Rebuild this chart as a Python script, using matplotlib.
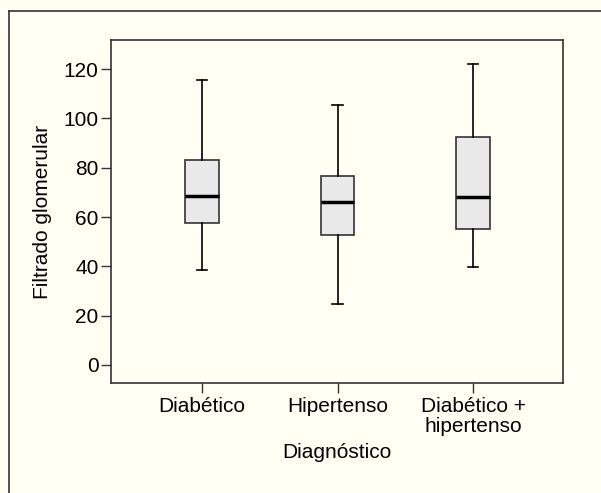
import matplotlib.pyplot as plt
from matplotlib.lines import Line2D

plt.rcParams['font.family'] = ['Liberation Sans', 'DejaVu Sans']

# data
categories = ['Diabético', 'Hipertenso', 'Diabético +\nhipertenso']
whislo = [38.5, 24.7, 39.7]
q1 = [57.6, 52.7, 55.1]
med = [68.5, 66.1, 68.3]
q3 = [83.1, 76.6, 92.4]
whishi = [115.5, 105.4, 122.0]
yticks = [0, 20, 40, 60, 80, 100, 120]

bg = '#fffff4'
fig = plt.figure(figsize=(6.01, 4.93), dpi=100, facecolor=bg)
ax = fig.add_axes([111/601, 1 - 383/493, (563-111)/601, (383-40)/493])
ax.set_facecolor(bg)

stats = []
for i in range(len(categories)):
    stats.append({'whislo': whislo[i], 'q1': q1[i], 'med': med[i],
                  'q3': q3[i], 'whishi': whishi[i], 'fliers': []})

ax.bxp(stats, positions=[1, 2, 3], widths=0.25, capwidths=0.08,
       patch_artist=True, showfliers=False,
       boxprops=dict(facecolor='#e9e9e9', edgecolor='#333333', linewidth=1.2),
       medianprops=dict(color='black', linewidth=2.5),
       whiskerprops=dict(color='black', linewidth=1.2),
       capprops=dict(color='black', linewidth=1.2))

ax.set_xlim(0.328, 3.664)
ax.set_ylim(-7.3, 131.8)
ax.set_yticks(yticks)
ax.set_xticks([1, 2, 3])
ax.set_xticklabels(categories, fontsize=15, linespacing=1.1)
ax.tick_params(axis='y', labelsize=15, length=7, width=1, color='#333333', pad=2)
ax.tick_params(axis='x', length=7, width=1, color='#333333', pad=3)
for s in ax.spines.values():
    s.set_color('#333333')
    s.set_linewidth(1.2)

ax.set_xlabel('Diagnóstico', fontsize=15, labelpad=5)
ax.set_ylabel('Filtrado glomerular', fontsize=15, labelpad=8)

# outer frame
fig.add_artist(Line2D([9/601, 1], [1 - 11/493, 1 - 11/493], color='#333333', lw=1.2,
                      transform=fig.transFigure))
fig.add_artist(Line2D([9/601, 9/601], [0, 1 - 11/493], color='#333333', lw=1.2,
                      transform=fig.transFigure))

fig.savefig('out.png', dpi=100, facecolor=bg)
